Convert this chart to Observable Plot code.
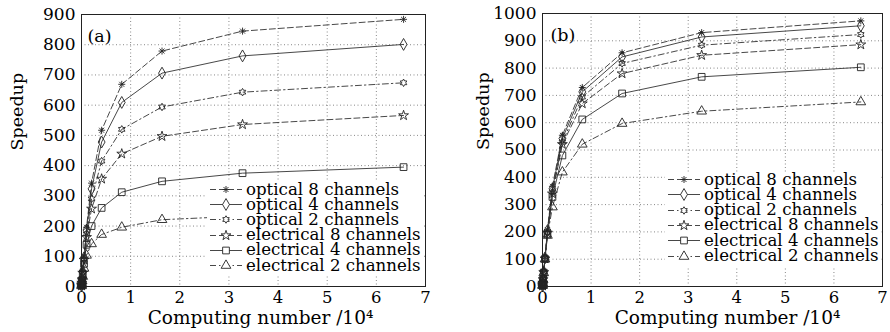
<!DOCTYPE html>
<html><head><meta charset="utf-8">
<script src="https://cdn.jsdelivr.net/npm/d3@7"></script>
<script src="https://cdn.jsdelivr.net/npm/@observablehq/plot@0.6"></script>
<style>
body{margin:0;background:#fff;}
#wrap{position:relative;width:890px;height:332px;font-family:"DejaVu Serif",serif;overflow:hidden;}
.panel{position:absolute;top:0;}
.legend{position:absolute;background:#fff;}
.row{position:absolute;left:0;height:15px;line-height:15px;display:flex;align-items:center;white-space:nowrap;font-family:"DejaVu Serif",serif;font-size:16.6px;color:#000;}
.row span{line-height:14px;display:inline-block;height:14px;}
.row svg{flex:none;}
</style></head><body><div id="wrap"></div><script>
// computing number (/10^4): 16 ... 65536
const xs = [0.0016,0.0032,0.0064,0.0128,0.0256,0.0512,0.1024,0.2048,0.4096,0.8192,1.6384,3.2768,6.5536];
const seriesNames = ["optical 8 channels","optical 4 channels","optical 2 channels","electrical 8 channels","electrical 4 channels","electrical 2 channels"];
// panel (a)
const a_optical8 = [3,6,13,26,50,98,196,342,517,669,779,845,884];
const a_optical4 = [3,6,12,25,49,95,187,323,478,609,706,763,801];
const a_optical2 = [3,6,12,24,47,90,174,290,415,520,594,643,674];
const a_electrical8 = [3,6,12,23,45,88,163,257,356,439,497,536,566];
const a_electrical4 = [3,6,11,21,40,75,138,200,260,312,348,375,395];
const a_electrical2 = [2,5,10,18,33,60,103,141,172,196,221,233,243];
// panel (b)
const b_optical8 = [3,7,14,28,55,108,208,367,554,729,856,930,973];
const b_optical4 = [3,7,14,27,54,105,205,358,542,713,841,914,955];
const b_optical2 = [3,7,13,27,53,103,199,346,529,694,817,884,923];
const b_electrical8 = [3,7,13,26,52,102,196,340,521,670,780,847,886];
const b_electrical4 = [3,6,13,26,51,101,191,328,480,612,707,768,803];
const b_electrical2 = [3,6,12,25,50,100,187,291,419,521,597,642,676];
const xTicks = [0,1,2,3,4,5,6,7];
const aYTicks = [0,100,200,300,400,500,600,700,800,900];
const bYTicks = [0,100,200,300,400,500,600,700,800,900,1000];

// custom marker shapes
const asterisk8 = {draw(ctx, size){const r=Math.sqrt(size/Math.PI)*1.0;const d=r*0.707;
  ctx.moveTo(-r,0);ctx.lineTo(r,0);ctx.moveTo(0,-r);ctx.lineTo(0,r);
  ctx.moveTo(-d,-d);ctx.lineTo(d,d);ctx.moveTo(-d,d);ctx.lineTo(d,-d);}};
const hexagram = {draw(ctx, size){const r=Math.sqrt(size/Math.PI)*1.1;const ri=r*0.577;
  for(let i=0;i<12;i++){const a=i*Math.PI/6-Math.PI/2;const rr=i%2?ri:r;const x=rr*Math.cos(a),y=rr*Math.sin(a);i?ctx.lineTo(x,y):ctx.moveTo(x,y);}ctx.closePath();}};
const styles = [
  {dash:"6,3", symbol: asterisk8, r:3.5},
  {dash:null, symbol: d3.symbolDiamond, r:3.6},
  {dash:"6,3,1.5,3", symbol: hexagram, r:3.4},
  {dash:"6,3", symbol: d3.symbolStar, r:3.1},
  {dash:null, symbol: d3.symbolSquare, r:3.8},
  {dash:"6,3,1.5,3", symbol: d3.symbolTriangle, r:3.6}
];

function makePanel(values, yMax, yTicks, m, tag, ylabDx, xlabDx, tagDx){
  const marks = [
    Plot.ruleX(xTicks.slice(1,-1), {stroke:"#888", strokeDasharray:"1,2.5", strokeWidth:1}),
    Plot.ruleY(yTicks.slice(1,-1), {stroke:"#888", strokeDasharray:"1,2.5", strokeWidth:1})
  ];
  values.forEach((vals, i) => {
    const rows = xs.map((x, j) => ({x, y: vals[j]}));
    marks.push(Plot.line(rows, {x:"x", y:"y", stroke:"#333", strokeWidth:0.9, strokeDasharray: styles[i].dash || undefined}));
    marks.push(Plot.dot(rows, {x:"x", y:"y", symbol: styles[i].symbol, r: styles[i].r, stroke:"#222", fill:"none", strokeWidth:0.9}));
  });
  marks.push(
    Plot.frame({stroke:"#222", strokeWidth:1}),
    Plot.axisX(xTicks, {tickSize:0, tickPadding:5, fontSize:16.5, label:null, fill:"#000", tickFormat: d => String(d)}),
    Plot.axisY(yTicks, {tickSize:0, tickPadding:6, fontSize:17, label:null, fill:"#000", tickFormat: d => String(d)}),
    Plot.text(["Speedup"], {text: d => d, frameAnchor:"left", rotate:-90, dx: ylabDx, fontSize:17.5, fill:"#000"}),
    Plot.text(["Computing number /10\u2074"], {text: d => d, frameAnchor:"bottom", lineAnchor:"top", dy:24, dx: xlabDx, fontSize:18.5, fill:"#000"}),
    Plot.text([tag], {text: d => d, frameAnchor:"top-left", textAnchor:"start", dx: tagDx, dy:15, fontSize:17.5, fill:"#000"})
  );
  return Plot.plot({
    width:445, height:332,
    marginLeft:m[0], marginRight:m[1], marginTop:m[2], marginBottom:m[3],
    x:{domain:[0,7]}, y:{domain:[0,yMax]},
    style:{fontFamily:"DejaVu Serif", color:"#000", background:"#fff"},
    marks
  });
}

function makeLegend(left, top, width, spacing){
  const lg = document.createElement("div");
  lg.className = "legend";
  lg.style.left = left + "px"; lg.style.top = top + "px";
  lg.style.width = width + "px"; lg.style.height = (spacing*6 + 2) + "px";
  seriesNames.forEach((name, i) => {
    const row = document.createElement("div");
    row.className = "row";
    row.style.top = (i*spacing) + "px";
    const svg = d3.create("svg").attr("width", 37).attr("height", 15);
    svg.append("line").attr("x1",3).attr("x2",35).attr("y1",7.5).attr("y2",7.5)
      .attr("stroke","#333").attr("stroke-width",0.9).attr("stroke-dasharray", styles[i].dash);
    svg.append("path").attr("transform","translate(19,7.5)")
      .attr("d", d3.symbol(styles[i].symbol, Math.PI*styles[i].r*styles[i].r)())
      .attr("stroke","#222").attr("fill","#fff").attr("stroke-width",0.9);
    row.appendChild(svg.node());
    const t = document.createElement("span");
    t.textContent = name;
    t.style.marginLeft = "2px";
    row.appendChild(t);
    lg.appendChild(row);
  });
  return lg;
}

const wrap = document.getElementById("wrap");
const pa = makePanel([a_optical8,a_optical4,a_optical2,a_electrical8,a_electrical4,a_electrical2], 900, aYTicks, [81,20,14,46], "(a)", -64, 7, 6);
pa.classList.add("panel"); pa.style.left = "0px";
const pb = makePanel([b_optical8,b_optical4,b_optical2,b_electrical8,b_electrical4,b_electrical2], 1000, bYTicks, [97,8,13,46], "(b)", -59, 15, 8);
pb.classList.add("panel"); pb.style.left = "445px";
wrap.appendChild(pa); wrap.appendChild(pb);
wrap.appendChild(makeLegend(207, 182, 216, 15.2));
wrap.appendChild(makeLegend(665, 172, 215, 15.3));
</script></body></html>
